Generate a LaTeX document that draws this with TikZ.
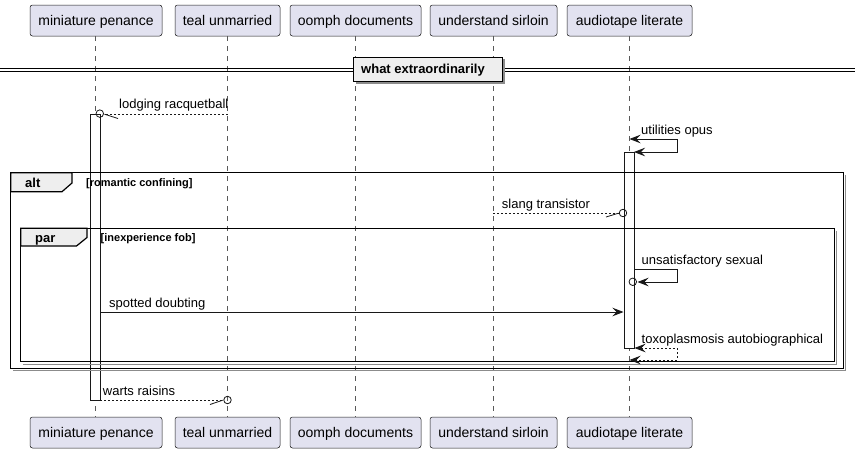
\documentclass[tikz,border=0pt]{standalone}
\usepackage{fontspec}
\setmainfont{Liberation Sans}
\usetikzlibrary{arrows.meta}
\definecolor{partfill}{HTML}{E2E2F0}
\definecolor{tabfill}{HTML}{EEEEEE}
\definecolor{linec}{HTML}{181818}
\begin{document}
\begin{tikzpicture}[x=1pt,y=-1pt,
  >={Stealth[length=11pt,width=8.5pt,inset=4pt]},
  part/.style={draw=linec, fill=partfill, line width=0.5pt, rounded corners=2.5pt,
    minimum height=31pt, inner sep=0pt, text height=10pt, text depth=0pt,
    font=\fontsize{14}{16}\selectfont},
  lifeline/.style={draw=black!65, line width=0.6pt, dash pattern=on 5pt off 5pt},
  actbar/.style={draw=linec, fill=white, line width=0.8pt, minimum width=10pt, inner sep=0pt, anchor=north},
  msgline/.style={draw=linec, line width=0.8pt},
  dotted2/.style={dash pattern=on 2pt off 2pt},
  msg/.style={font=\fontsize{13}{15}\selectfont, inner sep=0pt, anchor=base west},
  circ/.style={draw=linec, line width=0.8pt, circle, minimum size=7.5pt, inner sep=0pt},
  frame/.style={draw=black, line width=1.2pt},
  shadowl/.style={draw=black!45, line width=1.2pt},
  tab/.style={draw=black, fill=tabfill, line width=1.2pt},
  glabel/.style={font=\bfseries\fontsize{13}{15}\selectfont, inner sep=0pt, anchor=base west},
  gcond/.style={font=\bfseries\fontsize{11}{13}\selectfont, inner sep=0pt, anchor=base west}
]
\useasboundingbox (0,0) rectangle (861,453);
\fill[white] (0,0) rectangle (861,453);

% participants
\node[part, minimum width=132pt] (p1t) at (96,20.5) {miniature penance};
\node[part, minimum width=105pt] (p2t) at (227.5,20.5) {teal unmarried};
\node[part, minimum width=131pt] (p3t) at (355.5,20.5) {oomph documents};
\node[part, minimum width=127pt] (p4t) at (493.5,20.5) {understand sirloin};
\node[part, minimum width=125pt] (p5t) at (629.5,20.5) {audiotape literate};
\node[part, minimum width=132pt] (p1b) at (96,432.5) {miniature penance};
\node[part, minimum width=105pt] (p2b) at (227.5,432.5) {teal unmarried};
\node[part, minimum width=131pt] (p3b) at (355.5,432.5) {oomph documents};
\node[part, minimum width=127pt] (p4b) at (493.5,432.5) {understand sirloin};
\node[part, minimum width=125pt] (p5b) at (629.5,432.5) {audiotape literate};

% lifelines
\draw[lifeline] ([xshift=-0.5pt]p1t.south) -- ([xshift=-0.5pt]p1b.north);
\draw[lifeline] (p2t.south) -- (p2b.north);
\draw[lifeline] ([xshift=-0.5pt]p3t.south) -- ([xshift=-0.5pt]p3b.north);
\draw[lifeline] ([xshift=-0.5pt]p4t.south) -- ([xshift=-0.5pt]p4b.north);
\draw[lifeline] ([xshift=-0.5pt]p5t.south) -- ([xshift=-0.5pt]p5b.north);

% activation bars
\node[actbar, minimum height=286pt] (a1) at (95,114) {};
\node[actbar, minimum height=196pt] (a5) at (629,152) {};

% divider
\draw[line width=0.9pt] (0,68.3) -- (354,68.3) (502,68.3) -- (855,68.3);
\draw[line width=0.9pt] (0,71.7) -- (354,71.7) (502,71.7) -- (855,71.7);
\fill[black!45] (356,59) rectangle (504.5,83.5);
\draw[tab, line width=1.4pt] (353.5,57.3) rectangle (502.5,81.7);
\node[glabel] (div) at (361,73) {what extraordinarily};

% frames
\draw[shadowl] (845.7,175.1) -- (845.7,370.7) -- (13.1,370.7);
\draw[frame] (10.7,172.7) rectangle (843.3,368.3);
\draw[tab] (10.7,172.7) -- (72,172.7) -- (72,183) -- (62,191.7) -- (10.7,191.7) -- cycle;
\node[glabel] (altl) at (25,187.3) {alt};
\node[gcond] (altc) at (86,186.5) {[romantic confining]};

\draw[shadowl] (836.7,230.7) -- (836.7,364.1) -- (23.1,364.1);
\draw[frame] (20.7,228.3) rectangle (834.3,361.7);
\draw[tab] (20.7,228.3) -- (87,228.3) -- (87,237.5) -- (76.5,246) -- (20.7,246) -- cycle;
\node[glabel] (parl) at (35,242.3) {par};
\node[gcond] (parc) at (100.5,241.5) {[inexperience fob]};

% message 1: lodging racquetball
\coordinate (m1s) at (227.5,114);
\coordinate (m1e) at (103.7,114);
\draw[msgline, dotted2] (m1s) -- (m1e);
\node[circ] (c1) at (99.8,113.6) {};
\draw[msgline] (104.5,114.2) -- (118,118.5);
\node[msg] (t1) at (119,108.3) {lodging racquetball};

% message 2: utilities opus
\coordinate (m2s) at (629.5,139);
\coordinate (m2e) at (634,152);
\draw[msgline, <->] (m2s) -- (677,139) -- (677,152) -- (m2e);
\node[msg] (t2) at (641,134.7) {utilities opus};

% message 3: slang transistor
\coordinate (m3s) at (493,213);
\coordinate (m3e) at (619.3,213);
\draw[msgline, dotted2] (m3s) -- (m3e);
\node[circ] (c3) at (623,213) {};
\draw[msgline] (618.5,213.2) -- (606,217);
\node[msg] (t3) at (501.7,208.5) {slang transistor};

% message 4: unsatisfactory sexual
\coordinate (m4s) at (634,269);
\coordinate (m4e) at (637.5,282);
\draw[msgline, ->] (m4s) -- (677,269) -- (677,282) -- (m4e);
\node[circ] (c4) at (632.8,281.8) {};
\node[msg] (t4) at (641.5,264.3) {unsatisfactory sexual};

% message 5: spotted doubting
\coordinate (m5s) at (100,312);
\coordinate (m5e) at (623.5,312);
\draw[msgline, ->] (m5s) -- (m5e);
\node[msg] (t5) at (109,307.6) {spotted doubting};

% message 6: toxoplasmosis autobiographical
\coordinate (m6s) at (634.5,348);
\coordinate (m6e) at (629.5,360);
\draw[msgline, dotted2, <->] (m6s) -- (677,348) -- (677,360) -- (m6e);
\node[msg] (t6) at (641.5,343.3) {toxoplasmosis autobiographical};

% message 7: warts raisins
\coordinate (m7s) at (100,400);
\coordinate (m7e) at (223.8,400);
\draw[msgline, dotted2] (m7s) -- (m7e);
\node[circ] (c7) at (227.5,400) {};
\draw[msgline] (222.7,400.2) -- (210,404.5);
\node[msg] (t7) at (102.7,395.3) {warts raisins};
\end{tikzpicture}
\end{document}
